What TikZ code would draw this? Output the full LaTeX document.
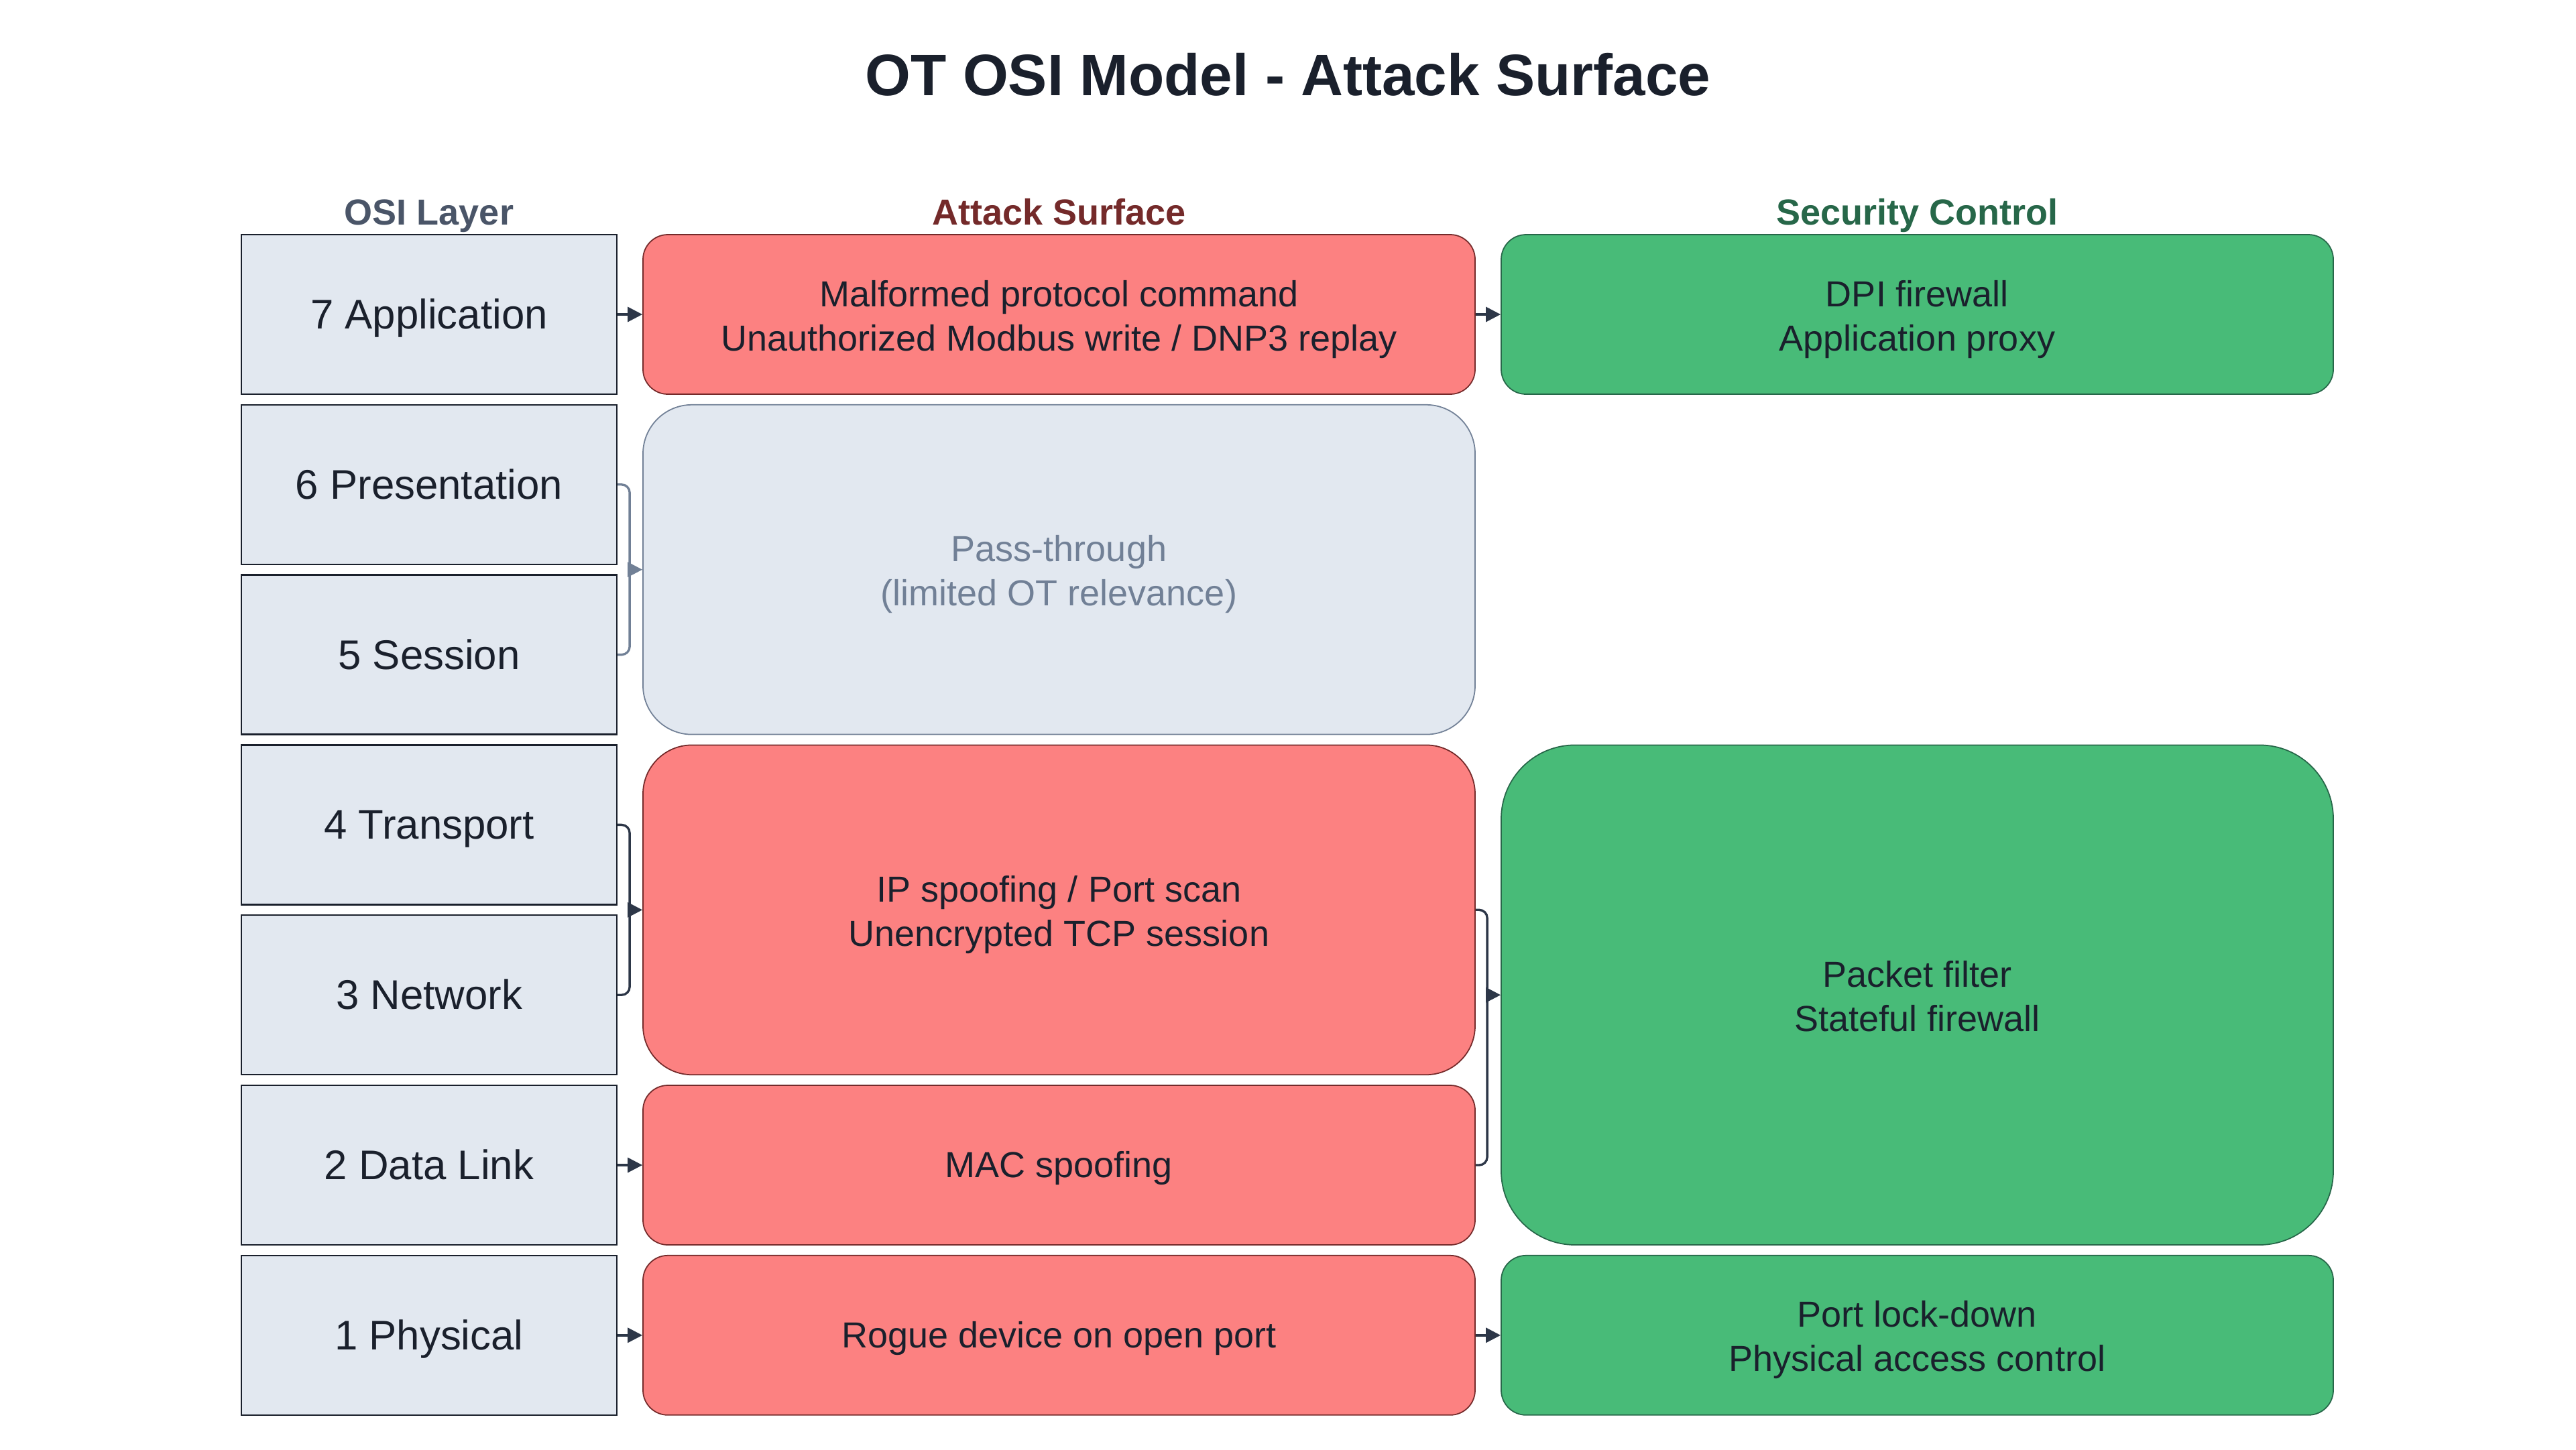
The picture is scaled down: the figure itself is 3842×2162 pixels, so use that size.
\documentclass[tikz,border=0pt]{standalone}
\usepackage{fontspec}
\setmainfont{Liberation Sans}
\usetikzlibrary{arrows.meta}
\definecolor{layfill}{HTML}{E2E8F0}
\definecolor{laydraw}{HTML}{1A202C}
\definecolor{redfill}{HTML}{FC8181}
\definecolor{reddraw}{HTML}{742A2A}
\definecolor{grnfill}{HTML}{48BB78}
\definecolor{grndraw}{HTML}{276749}
\definecolor{slate}{HTML}{718096}
\definecolor{ink}{HTML}{1A202C}
\definecolor{edgecol}{HTML}{2D3748}
\definecolor{hdrgray}{HTML}{4A5568}
% struts: single line, first line of two, last line of two
\newcommand{\onestrut}{\rule[-0.212em]{0pt}{1.117em}}
\newcommand{\firststrut}{\rule{0pt}{0.99em}}
\newcommand{\laststrut}{\rule[-0.212em]{0pt}{0.212em}}
\begin{document}
\begin{tikzpicture}[x=0.2pt,y=-0.2pt,
  boxtext/.style={align=center, text=ink, inner sep=0pt,
    font=\fontsize{10.8}{13.2}\selectfont},
  layerbox/.style={draw=laydraw, fill=layfill, line width=0.45pt,
    minimum width=112pt, minimum height=47.6pt, inner sep=0pt, align=center,
    text=ink, font=\fontsize{12.35}{14.8}\selectfont},
  redbox/.style={boxtext, draw=reddraw, fill=redfill, line width=0.35pt,
    rounded corners=7.4pt, minimum width=248.2pt, minimum height=47.6pt},
  grnbox/.style={boxtext, draw=grndraw, fill=grnfill, line width=0.35pt,
    rounded corners=7.4pt, minimum width=248.2pt, minimum height=47.6pt},
  passbox/.style={boxtext, draw=slate, fill=layfill, text=slate, line width=0.35pt,
    rounded corners=14.6pt, minimum width=248.2pt, minimum height=98.36pt},
  hdr/.style={anchor=base, font=\bfseries\fontsize{10.8}{12}\selectfont},
  conn/.style={draw=edgecol, line width=0.67pt, -{Triangle[length=4.4pt,width=4.4pt]}},
  brk/.style={draw=edgecol, line width=0.67pt, rounded corners=2.4pt},
]
\fill[white] (0,0) rectangle (3842,2162);
\useasboundingbox (0,0) rectangle (3842,2162);

\node[anchor=base, text=ink, font=\bfseries\fontsize{17.45}{20}\selectfont] (title) at (1921,142) {OT OSI Model - Attack Surface};

\node[hdr, text=hdrgray] (h1) at (640,335) {OSI Layer};
\node[hdr, text=reddraw] (h2) at (1579.5,335) {Attack Surface};
\node[hdr, text=grndraw] (h3) at (2859.5,335) {Security Control};

\node[layerbox] (l7) at (640,469) {\onestrut 7 Application};
\node[layerbox] (l6) at (640,722.8) {\onestrut 6 Presentation};
\node[layerbox] (l5) at (640,976.6) {\onestrut 5 Session};
\node[layerbox] (l4) at (640,1230.4) {\onestrut 4 Transport};
\node[layerbox] (l3) at (640,1484.2) {\onestrut 3 Network};
\node[layerbox] (l2) at (640,1738) {\onestrut 2 Data Link};
\node[layerbox] (l1) at (640,1991.8) {\onestrut 1 Physical};

\node[redbox] (a7) at (1579.5,469) {\firststrut Malformed protocol command\\Unauthorized Modbus write / DNP3 replay\laststrut};
\node[passbox] (pass) at (1579.5,849.7) {\firststrut Pass-through\\(limited OT relevance)\laststrut};
\node[redbox, minimum height=98.36pt, rounded corners=14.6pt] (aip) at (1579.5,1357.3) {\firststrut IP spoofing / Port scan\\Unencrypted TCP session\laststrut};
\node[redbox] (amac) at (1579.5,1738) {\onestrut MAC spoofing};
\node[redbox] (arog) at (1579.5,1991.8) {\onestrut Rogue device on open port};

\node[grnbox] (dpi) at (2859.5,469) {\firststrut DPI firewall\\Application proxy\laststrut};
\node[grnbox, minimum height=149.12pt, rounded corners=22pt] (pf) at (2859.5,1484.2) {\firststrut Packet filter\\Stateful firewall\laststrut};
\node[grnbox] (port) at (2859.5,1991.8) {\firststrut Port lock-down\\Physical access control\laststrut};

% straight connectors
\draw[conn] (l7.east) -- (a7.west);
\draw[conn] (l2.east) -- (amac.west);
\draw[conn] (l1.east) -- (arog.west);
\draw[conn] (a7.east) -- (dpi.west);
\draw[conn] (arog.east) -- (port.west);

% merged connectors
\path (pass.west) ++(-19,0) coordinate (jpass);
\path (aip.west) ++(-19,0) coordinate (jip);
\path (pf.west) ++(-20,0) coordinate (jpf);

\draw[brk, draw=slate] (l6.east) -- (l6.east -| jpass) -- (jpass);
\draw[brk, draw=slate] (l5.east) -- (l5.east -| jpass) -- (jpass);
\draw[conn, draw=slate, fill=slate] (jpass) -- (pass.west);

\draw[brk] (l4.east) -- (l4.east -| jip) -- (jip);
\draw[brk] (l3.east) -- (l3.east -| jip) -- (jip);
\draw[conn] (jip) -- (aip.west);

\draw[brk] (aip.east) -- (aip.east -| jpf) -- (jpf);
\draw[brk] (amac.east) -- (amac.east -| jpf) -- (jpf);
\draw[conn] (jpf) -- (pf.west);
\end{tikzpicture}
\end{document}
